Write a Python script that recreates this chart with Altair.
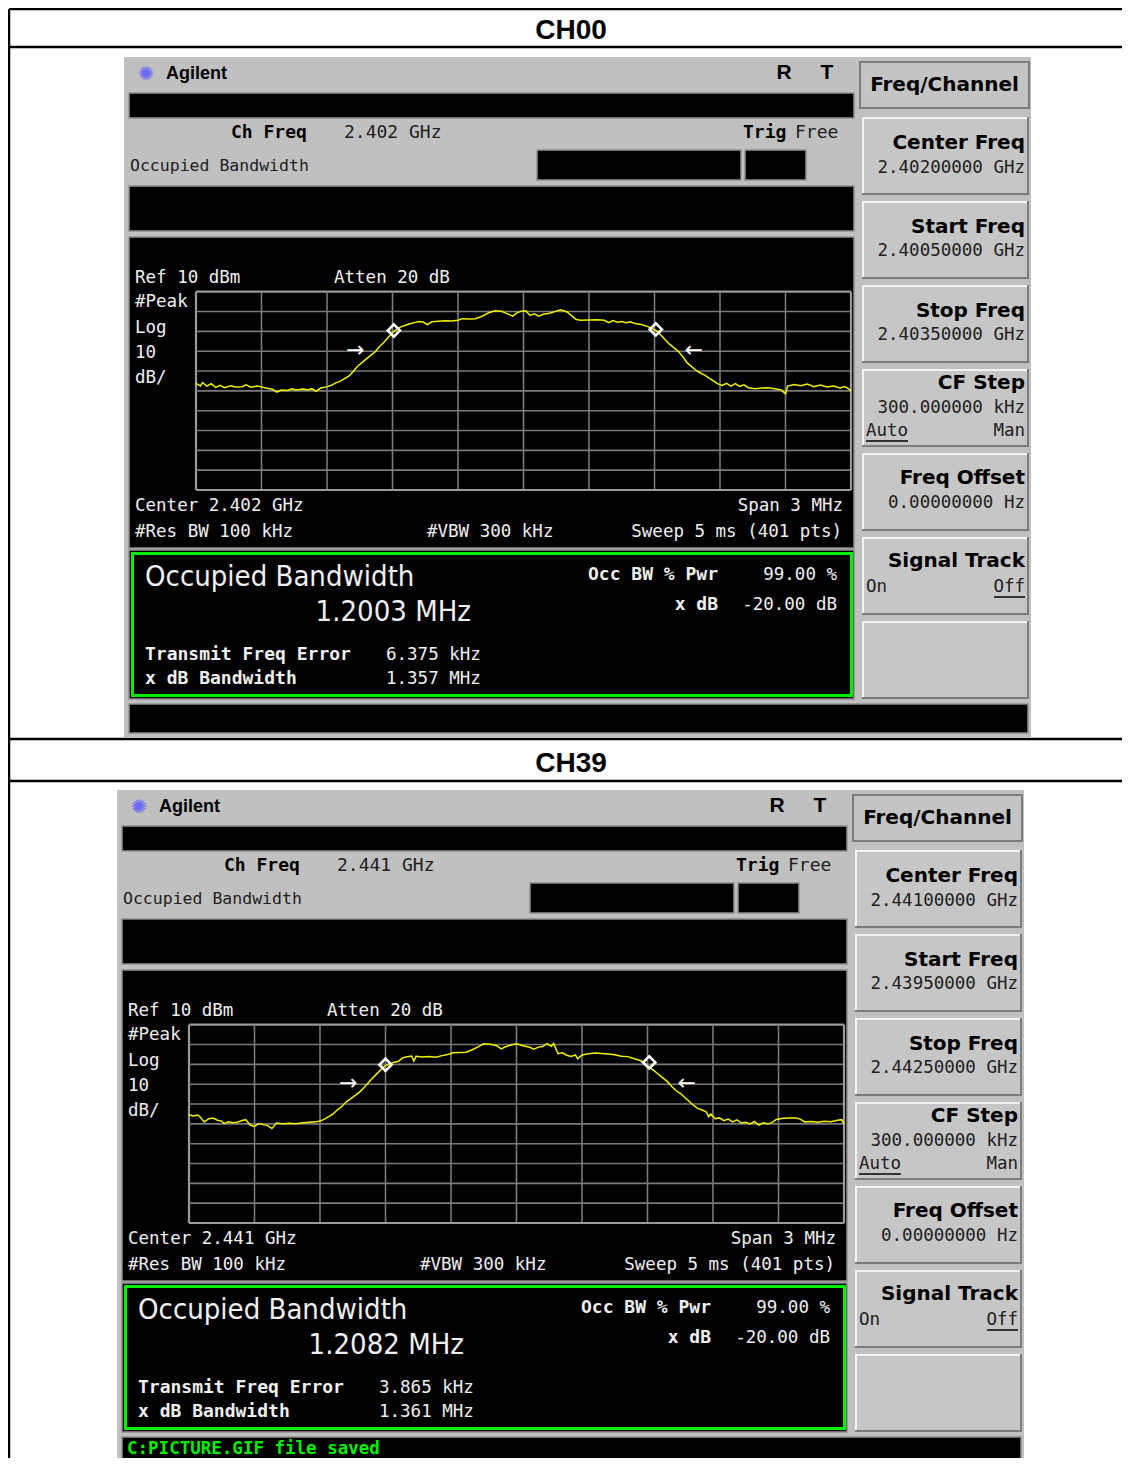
import altair as alt
import pandas as pd

# ---------------- data ----------------
CHANNELS = ["CH00", "CH39"]
CH_FREQ = ["2.402 GHz", "2.441 GHz"]
CENTER_TEXT = ["Center 2.402 GHz", "Center 2.441 GHz"]
CENTER_FREQ = ["2.40200000 GHz", "2.44100000 GHz"]
START_FREQ = ["2.40050000 GHz", "2.43950000 GHz"]
STOP_FREQ = ["2.40350000 GHz", "2.44250000 GHz"]
CF_STEP = ["300.000000 kHz", "300.000000 kHz"]
FREQ_OFFSET = ["0.00000000  Hz", "0.00000000  Hz"]
OCC_BW = ["1.2003 MHz", "1.2082 MHz"]
OCC_PWR = ["99.00 %", "99.00 %"]
X_DB = ["-20.00 dB", "-20.00 dB"]
FREQ_ERR = ["6.375 kHz", "3.865 kHz"]
XDB_BW = ["1.357 MHz", "1.361 MHz"]
STATUS_MSG = ["", "C:PICTURE.GIF file saved"]

REF_DBM = 10
DB_PER_DIV = 10
N_DIV = 10
SPAN_MHZ = 3.0

# trace: frequency offset from center (MHz) and level (dBm)
TRACE00_F = [-1.50,-1.48,-1.47,-1.45,-1.43,-1.41,-1.39,-1.37,-1.34,-1.32,
             -1.29,-1.27,-1.25,-1.22,-1.20,-1.18,-1.15,-1.13,-1.11,-1.08,
             -1.06,-1.04,-1.01,-0.99,-0.97,-0.95,-0.93,-0.90,-0.88,-0.86,
             -0.84,-0.82,-0.80,-0.78,-0.76,-0.74,-0.72,-0.70,-0.68,-0.66,
             -0.64,-0.62,-0.60,-0.58,-0.56,-0.54,-0.52,-0.50,-0.48,-0.46,
             -0.44,-0.42,-0.39,-0.36,-0.33,-0.30,-0.28,-0.25,-0.22,-0.19,
             -0.16,-0.13,-0.10,-0.07,-0.05,-0.03,-0.01,0.01,0.03,0.05,
             0.07,0.09,0.12,0.15,0.17,0.20,0.22,0.24,0.26,0.30,
             0.34,0.37,0.39,0.41,0.43,0.45,0.47,0.49,0.51,0.54,
             0.57,0.59,0.61,0.63,0.65,0.67,0.69,0.71,0.73,0.75,
             0.77,0.79,0.81,0.83,0.85,0.87,0.89,0.91,0.93,0.95,
             0.97,0.99,1.01,1.03,1.06,1.09,1.12,1.15,1.18,1.20,
             1.21,1.24,1.27,1.30,1.33,1.36,1.39,1.42,1.45,1.47,
             1.49,1.50]
TRACE00_DBM = [-36.2,-37.5,-35.8,-37.6,-36.4,-38.3,-37.2,-38.4,-37.5,-38.1,
               -37.9,-37.0,-38.2,-37.6,-38.0,-38.6,-39.2,-40.6,-39.6,-39.8,
               -39.0,-39.6,-39.1,-39.5,-38.9,-40.2,-38.6,-38.0,-37.2,-36.0,
               -35.2,-33.8,-32.6,-30.2,-27.6,-25.8,-23.9,-22.1,-20.4,-17.8,
               -15.6,-13.1,-10.6,-8.9,-7.6,-6.9,-6.2,-5.6,-5.0,-5.3,
               -6.6,-5.2,-4.9,-4.7,-4.8,-4.4,-3.6,-3.8,-3.6,-2.4,
               -0.6,0.4,0.1,-1.3,-2.3,-0.7,0.2,0.4,-2.0,-1.2,
               -2.3,-1.4,-0.9,0.2,0.9,-0.2,-2.1,-3.9,-4.4,-4.3,
               -4.2,-4.4,-5.6,-4.6,-5.4,-5.0,-5.6,-5.2,-6.0,-6.5,
               -7.6,-8.6,-9.8,-12.0,-14.4,-16.6,-18.3,-20.2,-22.8,-25.9,
               -27.8,-29.6,-31.0,-32.1,-33.6,-35.0,-36.5,-37.3,-36.2,-37.6,
               -36.4,-37.8,-37.0,-38.4,-38.9,-38.6,-38.4,-38.9,-39.5,-41.5,
               -37.6,-36.8,-37.4,-36.6,-37.9,-37.1,-38.0,-37.6,-38.6,-37.8,
               -39.0,-40.2]
TRACE39_F = [-1.50,-1.48,-1.46,-1.45,-1.43,-1.41,-1.39,-1.37,-1.35,-1.34,
             -1.32,-1.30,-1.28,-1.26,-1.24,-1.22,-1.20,-1.18,-1.16,-1.14,
             -1.12,-1.10,-1.07,-1.04,-1.01,-0.98,-0.95,-0.92,-0.90,-0.88,
             -0.86,-0.84,-0.82,-0.80,-0.78,-0.76,-0.74,-0.72,-0.70,-0.68,
             -0.66,-0.64,-0.62,-0.60,-0.58,-0.56,-0.54,-0.52,-0.50,-0.48,
             -0.47,-0.46,-0.43,-0.40,-0.37,-0.34,-0.31,-0.29,-0.26,-0.23,
             -0.20,-0.17,-0.15,-0.12,-0.09,-0.07,-0.05,-0.03,0.00,0.03,
             0.06,0.08,0.10,0.12,0.14,0.16,0.17,0.19,0.21,0.23,
             0.25,0.27,0.28,0.30,0.33,0.36,0.39,0.42,0.45,0.48,
             0.51,0.54,0.57,0.59,0.61,0.63,0.65,0.67,0.69,0.71,
             0.73,0.75,0.77,0.79,0.81,0.83,0.85,0.87,0.88,0.89,
             0.91,0.93,0.95,0.97,0.99,1.01,1.03,1.05,1.07,1.09,
             1.11,1.13,1.15,1.17,1.19,1.22,1.25,1.28,1.30,1.32,
             1.35,1.38,1.41,1.44,1.47,1.49,1.50]
TRACE39_DBM = [-35.4,-36.0,-35.6,-36.4,-39.0,-37.4,-37.1,-38.2,-38.6,-39.9,
               -39.0,-39.4,-39.2,-38.4,-37.9,-40.6,-41.3,-39.8,-40.4,-40.9,
               -42.4,-39.6,-40.0,-39.7,-39.9,-39.4,-39.2,-39.0,-38.6,-37.6,
               -36.4,-35.0,-32.9,-31.2,-28.9,-27.4,-25.8,-24.1,-21.9,-19.4,
               -17.0,-14.8,-12.6,-10.6,-9.8,-8.9,-8.4,-6.6,-6.2,-5.8,
               -8.4,-5.9,-6.3,-6.0,-6.4,-5.6,-4.9,-4.2,-4.0,-3.9,
               -2.5,-0.8,0.4,0.2,-0.6,-2.2,-1.1,-0.4,0.4,-0.6,
               -1.4,-2.3,-1.3,-1.0,0.4,-0.9,0.5,-4.6,-4.2,-5.4,
               -6.0,-5.2,-7.2,-5.3,-4.6,-4.3,-4.5,-4.8,-5.2,-5.9,
               -6.1,-7.2,-8.2,-9.8,-11.6,-13.2,-15.0,-16.8,-18.6,-21.0,
               -23.2,-24.6,-26.6,-28.6,-30.6,-32.2,-33.0,-34.0,-36.4,-35.0,
               -37.4,-37.0,-38.4,-37.6,-39.0,-38.0,-39.6,-39.2,-40.0,-38.8,
               -40.6,-39.5,-40.0,-39.4,-37.8,-37.2,-37.0,-37.1,-37.6,-39.0,
               -38.8,-39.2,-38.7,-38.9,-38.2,-37.9,-40.4]
TRACES = [(TRACE00_F, TRACE00_DBM), (TRACE39_F, TRACE39_DBM)]
for _f, _d in TRACES:
    assert len(_f) == len(_d)

MARKER_F = [[-0.594, 0.606], [-0.600, 0.608]]
MARKER_DBM = [[-9.6, -9.0], [-10.2, -9.0]]
ARROW_F = [[-0.77, 0.78], [-0.77, 0.78]]
ARROW_DBM = [-19.4, -19.4]
ARROW_GLYPH = ["\u2192", "\u2190"]

# ---------------- layout (reference pixel coords) ----------------
W, H = 1114, 1450
PX = alt.Scale(domain=[8, 8 + W], range=[0, W], nice=False, zero=False)
PY = alt.Scale(domain=[8, 8 + H], range=[0, H], nice=False, zero=False)
SCREEN_OFFSETS = [(0, 0), (-7, 733)]
HEADER_Y = [31, 764]
GRID_X0, GRID_X1, GRID_Y0, GRID_Y1 = 196, 851, 291.7, 490
KEY_ROWS = [(117, 195), (201, 279), (285, 363), (369, 447), (453, 531), (537, 615), (621, 699)]

FONTS = {
    "mono": ("DejaVu Sans Mono", "normal"),
    "monob": ("DejaVu Sans Mono", "bold"),
    "sansb": ("Liberation Sans", "bold"),
    "keyb": ("DejaVu Sans", "bold"),
    "cond": ("DejaVu Sans Condensed, DejaVu Sans", "normal"),
    "sym": ("DejaVu Sans", "normal"),
}

RECTS, TEXTS, RULES = [], [], []

# table lines
for yy in [9, 47, 739, 781]:
    RULES.append(dict(x=9, x2=8 + W, y=yy, y2=yy, c="#000000", sw=2.5))
RULES.append(dict(x=9, x2=9, y=9, y2=8 + H, c="#000000", sw=2.5))
for i, ch in enumerate(CHANNELS):
    TEXTS.append(dict(x=571, y=HEADER_Y[i], text=ch, size=28, color="#000000", font="sansb", align="center"))


def build_screen(i, dx, dy):
    def rect(x1, y1, x2, y2, fill, stroke="transparent", sw=0):
        RECTS.append(dict(x=x1 + dx, x2=x2 + dx, y=y1 + dy, y2=y2 + dy, fill=fill, stroke=stroke, sw=sw))

    def txt(x, y, s, size, color, font, align="left"):
        TEXTS.append(dict(x=x + dx, y=y + dy, text=s, size=size, color=color, font=font, align=align))

    def uline(x1, x2, y):
        RULES.append(dict(x=x1 + dx, x2=x2 + dx, y=y + dy, y2=y + dy, c="#000000", sw=1.5))

    rect(124, 57, 1031, 737, "#c0c0c0")
    rect(129, 93, 854, 118, "#000000", "#8e8e8e", 1.5)
    rect(537, 150, 741, 180, "#000000", "#8e8e8e", 1.5)
    rect(745, 150, 806, 180, "#000000", "#8e8e8e", 1.5)
    rect(129, 186, 854, 231, "#000000", "#8e8e8e", 1.5)
    rect(129, 237, 854, 548, "#000000", "#8e8e8e", 1.5)
    rect(129, 550, 854, 699, "#000000", "#8e8e8e", 1.5)
    rect(132.5, 553.5, 851.5, 695.5, "#000000", "#00f000", 3)
    rect(129, 704, 1028, 733, "#000000", "#8e8e8e", 1.5)
    rect(860, 62, 1029, 108, "#c4c4c4", "#7c7c7c", 2)
    for top, bot in KEY_ROWS:
        rect(862, top, 1029, bot, "#7c7c7c")
        rect(862, top, 1027, bot - 2, "#f4f4f4")
        rect(864, top + 2, 1027, bot - 2, "#c6c6c6")

    BK = "#000000"
    WH = "#f0f0f0"
    txt(146, 74, "\u273a", 19, "#6a6af5", "sym", "center")
    txt(166, 74, "Agilent", 18, BK, "sansb")
    txt(784, 73, "R", 21, BK, "sansb", "center")
    txt(827, 73, "T", 21, BK, "sansb", "center")
    txt(231, 133, "Ch Freq", 18, BK, "monob")
    txt(344, 133, CH_FREQ[i], 18, "#202020", "mono")
    txt(743, 133, "Trig", 18, BK, "monob")
    txt(795, 133, "Free", 18, "#202020", "mono")
    txt(130, 166, "Occupied Bandwidth", 16.5, "#202020", "mono")

    txt(135, 278, "Ref 10 dBm", 17.5, WH, "mono")
    txt(334, 278, "Atten 20 dB", 17.5, WH, "mono")
    txt(135, 302, "#Peak", 17.5, WH, "mono")
    txt(135, 328, "Log", 17.5, WH, "mono")
    txt(135, 353, "10", 17.5, WH, "mono")
    txt(135, 378, "dB/", 17.5, WH, "mono")
    txt(135, 506, CENTER_TEXT[i], 17.5, WH, "mono")
    txt(135, 532, "#Res BW 100 kHz", 17.5, WH, "mono")
    txt(427, 532, "#VBW 300 kHz", 17.5, WH, "mono")
    txt(843, 506, "Span 3 MHz", 17.5, WH, "mono", "right")
    txt(842, 532, "Sweep 5 ms (401 pts)", 17.5, WH, "mono", "right")

    txt(145, 577, "Occupied Bandwidth", 29, WH, "cond")
    txt(471, 612, OCC_BW[i], 29, WH, "cond", "right")
    txt(718, 575, "Occ BW % Pwr", 18, WH, "monob", "right")
    txt(837, 575, OCC_PWR[i], 17.5, WH, "mono", "right")
    txt(718, 605, "x dB", 18, WH, "monob", "right")
    txt(837, 605, X_DB[i], 17.5, WH, "mono", "right")
    txt(145, 655, "Transmit Freq Error", 18, WH, "monob")
    txt(145, 679, "x dB Bandwidth", 18, WH, "monob")
    txt(386, 655, FREQ_ERR[i], 17.5, WH, "mono")
    txt(386, 679, XDB_BW[i], 17.5, WH, "mono")
    if STATUS_MSG[i]:
        txt(134, 716, STATUS_MSG[i], 17.5, "#00f000", "monob")

    K = 1025
    txt(944.5, 85, "Freq/Channel", 20, BK, "keyb", "center")
    txt(K, 143, "Center Freq", 20, BK, "keyb", "right")
    txt(K, 168, CENTER_FREQ[i], 17.5, "#202020", "mono", "right")
    txt(K, 227, "Start Freq", 20, BK, "keyb", "right")
    txt(K, 251, START_FREQ[i], 17.5, "#202020", "mono", "right")
    txt(K, 311, "Stop Freq", 20, BK, "keyb", "right")
    txt(K, 335, STOP_FREQ[i], 17.5, "#202020", "mono", "right")
    txt(K, 383, "CF Step", 20, BK, "keyb", "right")
    txt(K, 408, CF_STEP[i], 17.5, "#202020", "mono", "right")
    txt(866, 431, "Auto", 17.5, "#202020", "mono")
    txt(K, 431, "Man", 17.5, "#202020", "mono", "right")
    uline(866, 908, 441)
    txt(K, 478, "Freq Offset", 20, BK, "keyb", "right")
    txt(K, 503, FREQ_OFFSET[i], 17.5, "#202020", "mono", "right")
    txt(K, 561, "Signal Track", 20, BK, "keyb", "right")
    txt(866, 587, "On", 17.5, "#202020", "mono")
    txt(K, 587, "Off", 17.5, "#202020", "mono", "right")
    uline(994, 1025, 597)


for i, (dx, dy) in enumerate(SCREEN_OFFSETS):
    build_screen(i, dx, dy)

layers = []
layers.append(
    alt.Chart(pd.DataFrame(RECTS)).mark_rect().encode(
        x=alt.X("x:Q", scale=PX, axis=None), x2="x2:Q",
        y=alt.Y("y:Q", scale=PY, axis=None), y2="y2:Q",
        color=alt.Color("fill:N", scale=None),
        stroke=alt.Stroke("stroke:N", scale=None),
        strokeWidth=alt.StrokeWidth("sw:Q", scale=None),
    )
)
layers.append(
    alt.Chart(pd.DataFrame(RULES)).mark_rule().encode(
        x=alt.X("x:Q", scale=PX, axis=None), x2="x2:Q",
        y=alt.Y("y:Q", scale=PY, axis=None), y2="y2:Q",
        color=alt.Color("c:N", scale=None),
        strokeWidth=alt.StrokeWidth("sw:Q", scale=None),
    )
)

# spectrum traces with their own frequency / level scales
lo = REF_DBM - DB_PER_DIV * N_DIV
for i, (dx, dy) in enumerate(SCREEN_OFFSETS):
    XT = alt.Scale(domain=[-SPAN_MHZ / 2, SPAN_MHZ / 2],
                   range=[GRID_X0 + dx - 8, GRID_X1 + dx - 8], nice=False, zero=False)
    YT = alt.Scale(domain=[lo, REF_DBM],
                   range=[GRID_Y1 + dy - 8, GRID_Y0 + dy - 8], nice=False, zero=False)
    step_f = SPAN_MHZ / N_DIV
    grid = []
    for k in range(N_DIV + 1):
        edge = k in (0, N_DIV)
        f = -SPAN_MHZ / 2 + k * step_f
        grid.append(dict(x=f, x2=f, y=lo, y2=REF_DBM, sw=2.2 if edge else 1.6,
                         c="#9a9a9a" if edge else "#7a7a7a"))
        d = REF_DBM - k * DB_PER_DIV
        grid.append(dict(x=-SPAN_MHZ / 2, x2=SPAN_MHZ / 2, y=d, y2=d, sw=2.2 if edge else 1.6,
                         c="#9a9a9a" if edge else "#7a7a7a"))
    layers.append(
        alt.Chart(pd.DataFrame(grid)).mark_rule().encode(
            x=alt.X("x:Q", scale=XT, axis=None), x2="x2:Q",
            y=alt.Y("y:Q", scale=YT, axis=None), y2="y2:Q",
            color=alt.Color("c:N", scale=None),
            strokeWidth=alt.StrokeWidth("sw:Q", scale=None),
        )
    )
    f_list, d_list = TRACES[i]
    layers.append(
        alt.Chart(pd.DataFrame({"f": f_list, "dbm": d_list})).mark_line(
            color="#f2f200", strokeWidth=1.5
        ).encode(
            x=alt.X("f:Q", scale=XT, axis=None),
            y=alt.Y("dbm:Q", scale=YT, axis=None),
        )
    )
    layers.append(
        alt.Chart(pd.DataFrame({"f": MARKER_F[i], "dbm": MARKER_DBM[i]})).mark_point(
            shape="diamond", filled=False, color="#ffffff", strokeWidth=2.6, size=150, opacity=1
        ).encode(
            x=alt.X("f:Q", scale=XT, axis=None),
            y=alt.Y("dbm:Q", scale=YT, axis=None),
        )
    )
    layers.append(
        alt.Chart(pd.DataFrame({"f": ARROW_F[i], "dbm": [ARROW_DBM[i]] * 2, "g": ARROW_GLYPH})).mark_text(
            font="DejaVu Sans", fontSize=22, color="#ffffff", baseline="middle", align="center"
        ).encode(
            x=alt.X("f:Q", scale=XT, axis=None),
            y=alt.Y("dbm:Q", scale=YT, axis=None),
            text="g:N",
        )
    )

tdf = pd.DataFrame(TEXTS)
for (fk, align), g in tdf.groupby(["font", "align"]):
    fam, wt = FONTS[fk]
    layers.append(
        alt.Chart(g.reset_index(drop=True)).mark_text(
            align=align, baseline="middle", font=fam, fontWeight=wt
        ).encode(
            x=alt.X("x:Q", scale=PX, axis=None),
            y=alt.Y("y:Q", scale=PY, axis=None),
            text="text:N",
            size=alt.Size("size:Q", scale=None),
            color=alt.Color("color:N", scale=None),
        )
    )

chart = (
    alt.layer(*layers)
    .resolve_scale(x="independent", y="independent")
    .properties(width=W, height=H, padding=0, autosize="none", background="#ffffff")
    .configure_view(strokeWidth=0)
)
chart.save("out.html", embed_options={"renderer": "svg", "actions": False})
